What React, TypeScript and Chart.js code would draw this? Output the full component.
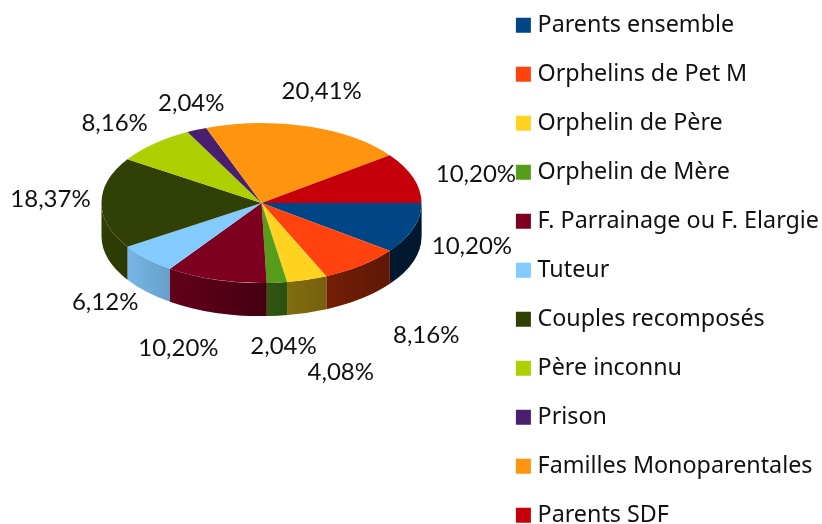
import React, { useEffect, useRef } from "react";
import { Chart, registerables } from "chart.js";

Chart.register(...registerables);

const categories = [
  "Parents ensemble",
  "Orphelins de Pet M",
  "Orphelin de Père",
  "Orphelin de Mère",
  "F. Parrainage ou F. Elargie",
  "Tuteur",
  "Couples recomposés",
  "Père inconnu",
  "Prison",
  "Familles Monoparentales",
  "Parents SDF",
];
const shares = [10.2, 8.16, 4.08, 2.04, 10.2, 6.12, 18.37, 8.16, 2.04, 20.41, 10.2];
const sliceColors = [
  "#004586", "#ff420e", "#ffd320", "#579d1c", "#7e0021", "#83caff",
  "#314004", "#aecf00", "#4b1f6f", "#ff950e", "#c5000b",
];

// label nudges from the default anchor, in pixels
const labelNudges: [number, number][] = [
  [13, 11], [35, 51], [20, 70], [2, 40], [-24, 46], [-7, 27],
  [-3, -4], [-7, -3], [14, -5], [1, -12], [17, 4],
];

const CANVAS_W = 845;
const CANVAS_H = 600;
const TOP_SHIFT = 12;
const PIE_X = 261.5;
const PIE_Y = 203 + TOP_SHIFT;
const RADIUS = 160;
const TILT = 0.5;
const DEPTH = 33;

const pie3d = {
  id: "pie3d",
  beforeDatasetsDraw(chart: any) {
    const ctx = chart.ctx;
    const arcs = chart.getDatasetMeta(0).data;
    const ry = RADIUS * TILT;
    const shade = ctx.createLinearGradient(PIE_X - RADIUS, 0, PIE_X + RADIUS, 0);
    shade.addColorStop(0, "rgba(0,0,0,0.03)");
    shade.addColorStop(0.5, "rgba(0,0,0,0.45)");
    shade.addColorStop(1, "rgba(0,0,0,0.68)");
    arcs.forEach((arc: any, i: number) => {
      const a = Math.max(arc.startAngle, 0);
      const b = Math.min(arc.endAngle, Math.PI);
      if (b <= a) return;
      const path = new Path2D();
      path.ellipse(PIE_X, PIE_Y, RADIUS, ry, 0, a, b);
      path.lineTo(PIE_X + RADIUS * Math.cos(b), PIE_Y + ry * Math.sin(b) + DEPTH);
      path.ellipse(PIE_X, PIE_Y + DEPTH, RADIUS, ry, 0, b, a, true);
      path.closePath();
      ctx.fillStyle = sliceColors[i];
      ctx.fill(path);
      ctx.fillStyle = shade;
      ctx.fill(path);
    });
    const first = arcs[0];
    ctx.save();
    ctx.translate(PIE_X, PIE_Y);
    ctx.scale(1, TILT);
    ctx.translate(-first.x, -first.y);
  },
  afterDatasetsDraw(chart: any) {
    chart.ctx.restore();
  },
  afterDraw(chart: any) {
    const ctx = chart.ctx;
    ctx.save();
    ctx.font = "24px Lato";
    ctx.fillStyle = "#111";
    ctx.textAlign = "center";
    ctx.textBaseline = "middle";
    chart.getDatasetMeta(0).data.forEach((arc: any, i: number) => {
      const mid = (arc.startAngle + arc.endAngle) / 2;
      const x = PIE_X + 1.3 * RADIUS * Math.cos(mid) + labelNudges[i][0];
      const y = PIE_Y + 1.3 * RADIUS * TILT * Math.sin(mid) + labelNudges[i][1];
      ctx.fillText(shares[i].toFixed(2).replace(".", ",") + "%", x, y);
    });
    ctx.restore();
  },
};

export default function App() {
  const ref = useRef<HTMLCanvasElement>(null);
  useEffect(() => {
    const chart = new Chart(ref.current!, {
      type: "pie",
      data: {
        labels: categories,
        datasets: [
          {
            data: shares,
            backgroundColor: sliceColors,
            borderWidth: 0,
            radius: RADIUS,
            clip: false,
          } as any,
        ],
      },
      options: {
        responsive: false,
        animation: false,
        rotation: 90,
        layout: { padding: { right: 16 } },
        plugins: {
          tooltip: { enabled: false },
          legend: {
            position: "right",
            align: "start",
            labels: {
              usePointStyle: true,
              pointStyle: "rect",
              boxWidth: 5,
              boxHeight: 15,
              padding: 25.7,
              color: "#111",
              font: { family: "'Noto Sans'", size: 23.3 },
            },
          },
        },
      } as any,
      plugins: [pie3d],
    });
    return () => chart.destroy();
  }, []);
  return (
    <div
      style={{
        position: "fixed",
        left: 0,
        top: 0,
        width: 822,
        height: 524,
        overflow: "hidden",
        background: "#fff",
      }}
    >
      <canvas
        ref={ref}
        width={CANVAS_W}
        height={CANVAS_H}
        style={{ position: "absolute", left: 0, top: -TOP_SHIFT }}
      />
    </div>
  );
}
